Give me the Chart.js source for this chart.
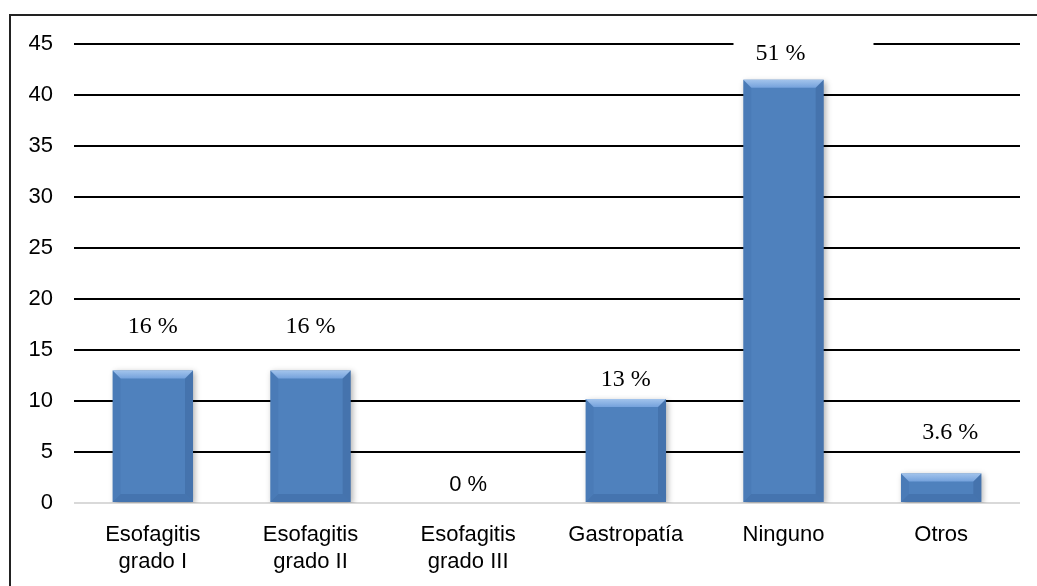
<!DOCTYPE html>
<html>
<head>
<meta charset="utf-8">
<script src="https://cdn.jsdelivr.net/npm/chart.js@4.4.1/dist/chart.umd.min.js"></script>
<style>
  html, body { margin: 0; padding: 0; background: #fff; }
  #wrap { width: 1037px; height: 586px; position: relative; }
</style>
</head>
<body>
<div id="wrap"><canvas id="chart" width="1037" height="586"></canvas></div>
<script>
const categories = [['Esofagitis', 'grado I'], ['Esofagitis', 'grado II'], ['Esofagitis', 'grado III'], 'Gastropatía', 'Ninguno', 'Otros'];
const values = [13, 13, 0, 10.2, 41.5, 2.9];
const pctLabels = ['16 %', '16 %', '0 %', '13 %', '51 %', '3.6 %'];

// label placement (px above bar top / horizontal nudge)
const labelLift = [44, 44, 18, 19, 26, 41];
const labelNudge = [0, 0, 0, 0, -3, 9];

function barFill(ctx) {
  const el = ctx.element;
  const c = ctx.chart.ctx;
  if (!el || !isFinite(el.x)) return '#4f81bd';
  const w = el.width || 80;
  const g = c.createLinearGradient(el.x - w / 2, 0, el.x + w / 2, 0);
  g.addColorStop(0, '#4a7cba');
  g.addColorStop(0.3, '#5b8fd1');
  g.addColorStop(0.7, '#5089cc');
  g.addColorStop(1, '#3f6eac');
  return g;
}

const frame = {
  id: 'frame',
  afterDraw(chart) {
    const c = chart.ctx;
    c.save();
    c.strokeStyle = '#222';
    c.lineWidth = 2;
    c.strokeRect(10, 15, 1100, 700);
    c.restore();
  }
};

const shadow = {
  id: 'shadow',
  beforeDatasetsDraw(chart) {
    const c = chart.ctx;
    c.save();
    c.shadowColor = 'rgba(0,0,0,0.3)';
    c.shadowBlur = 6;
    c.shadowOffsetX = 2;
    c.shadowOffsetY = 2;
  },
  afterDatasetsDraw(chart) {
    chart.ctx.restore();
  }
};

const bevel = {
  id: 'bevel',
  afterDatasetsDraw(chart) {
    const c = chart.ctx;
    chart.getDatasetMeta(0).data.forEach(bar => {
      const h = bar.base - bar.y;
      if (h <= 1) return;
      const l = bar.x - bar.width / 2, r = bar.x + bar.width / 2;
      const t = bar.y, b = bar.base;
      const d = Math.min(8, h / 3);
      c.save();
      c.beginPath();
      c.moveTo(l, t); c.lineTo(r, t); c.lineTo(r - d, t + d); c.lineTo(l + d, t + d); c.closePath();
      const tg = c.createLinearGradient(0, t, 0, t + d);
      tg.addColorStop(0, '#a3c4ec');
      tg.addColorStop(1, '#75a2dc');
      c.fillStyle = tg; c.fill();
      c.beginPath();
      c.moveTo(r, t); c.lineTo(r, b); c.lineTo(r - d, b - d); c.lineTo(r - d, t + d); c.closePath();
      c.fillStyle = 'rgba(30,60,110,0.2)'; c.fill();
      c.beginPath();
      c.moveTo(l, t); c.lineTo(l, b); c.lineTo(l + d, b - d); c.lineTo(l + d, t + d); c.closePath();
      c.fillStyle = 'rgba(40,80,140,0.1)'; c.fill();
      c.beginPath();
      c.moveTo(l, b); c.lineTo(r, b); c.lineTo(r - d, b - d); c.lineTo(l + d, b - d); c.closePath();
      c.fillStyle = 'rgba(30,60,110,0.18)'; c.fill();
      c.restore();
    });
  }
};

const pctText = {
  id: 'pctText',
  afterDatasetsDraw(chart) {
    const c = chart.ctx;
    chart.getDatasetMeta(0).data.forEach((bar, i) => {
      const x = bar.x + labelNudge[i];
      const y = bar.y - labelLift[i];
      c.save();
      c.fillStyle = '#fff';
      c.fillRect(x - 47, y - 15, 140, 30);
      c.fillStyle = '#000';
      c.font = i === 2 ? '22px "Liberation Sans", Arial, sans-serif' : '24px "Liberation Serif", "Times New Roman", serif';
      c.textAlign = 'center';
      c.textBaseline = 'middle';
      c.fillText(pctLabels[i], x, y);
      c.restore();
    });
  }
};

new Chart(document.getElementById('chart'), {
  type: 'bar',
  data: {
    labels: categories,
    datasets: [{
      data: values,
      backgroundColor: barFill,
      borderWidth: 0,
      barPercentage: 0.51,
      categoryPercentage: 1
    }]
  },
  options: {
    responsive: false,
    animation: false,
    layout: { padding: { top: 44, right: 17, bottom: 0, left: 0 } },
    plugins: { legend: { display: false }, tooltip: { enabled: false } },
    scales: {
      x: {
        grid: { display: false },
        border: { display: false },
        ticks: {
          color: '#000',
          padding: 11,
          maxRotation: 0,
          autoSkip: false,
          font: { family: '"Liberation Sans", Arial, sans-serif', size: 22, lineHeight: 1.2 }
        },
        afterFit(s) { s.height = 83; }
      },
      y: {
        min: 0, max: 45,
        ticks: {
          stepSize: 5,
          color: '#000',
          padding: 21,
          font: { family: '"Liberation Sans", Arial, sans-serif', size: 22 }
        },
        grid: {
          drawTicks: false,
          lineWidth: 2,
          color: c => c.tick && c.tick.value === 0 ? '#d9d9d9' : '#000'
        },
        border: { display: false },
        afterFit(s) { s.width = 74; }
      }
    }
  },
  plugins: [shadow, bevel, pctText, frame]
});
</script>
</body>
</html>
